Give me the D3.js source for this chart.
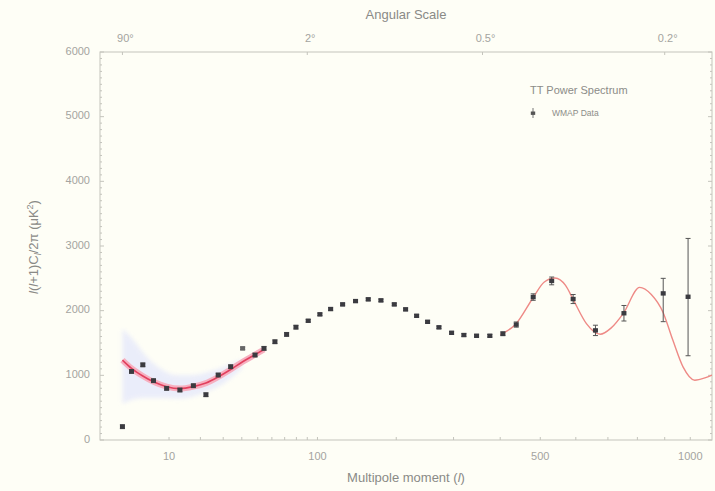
<!DOCTYPE html>
<html>
<head>
<meta charset="utf-8">
<script src="https://cdn.jsdelivr.net/npm/d3@7"></script>
<style>
body { margin: 0; background: #fefef6; }
svg { display: block; font-family: "Liberation Sans", Arial, sans-serif; }
</style>
</head>
<body>
<svg id="chart" width="715" height="491"></svg>
<script>
// binned WMAP points
var dataL = [2, 3, 4.6, 6.5, 9.4, 13, 17.4, 22.2, 27.6, 33.8, 40.5, 48.2, 54.3, 62.3, 71.6, 79.6,
             90.9, 102.5, 113.9, 127.5, 143.2, 159.7, 177.3, 197, 214.7, 232.8, 251.7, 272.2, 296.2,
             320.7, 347.2, 376.3, 406.3, 438.4, 481.3, 530.9, 592.1, 660.1, 753.4, 894.3, 991.1];
var dataD = [206, 1060, 1162, 917, 799, 773, 839, 700, 1005, 1133, 1417, 1314, 1417, 1519, 1633, 1745,
             1844, 1943, 2025, 2097, 2148, 2175, 2159, 2097, 2020, 1921, 1828, 1742, 1658,
             1623, 1612, 1612, 1643, 1785, 2210, 2460, 2180, 1695, 1960, 2267, 2215];
var errLo = [30, 30, 30, 30, 30, 30, 30, 30, 30, 30, 20, 30, 30, 30, 30, 30,
             20, 20, 20, 20, 20, 20, 20, 20, 20, 20, 20, 20, 20,
             20, 20, 20, 30, 40, 50, 60, 70, 80, 120, 437, 912];
var errHi = [30, 30, 30, 30, 30, 30, 30, 30, 30, 30, 20, 30, 30, 30, 30, 30,
             20, 20, 20, 20, 20, 20, 20, 20, 20, 20, 20, 20, 20,
             20, 20, 20, 30, 40, 50, 60, 70, 80, 120, 233, 902];

// best fit spectrum, low l part (with pink band) and high l part
var lowCurveL = [2, 3, 4.6, 6.5, 9.4, 13, 17.4, 22.2, 27.6, 33.8, 40.5, 48.2, 54.3];
var lowCurveD = [1236, 1108, 990, 900, 825, 795, 825, 880, 975, 1090, 1210, 1320, 1400];
var highCurveL = [400, 437, 481, 510, 540, 570, 592, 632, 675, 710, 752, 808, 850, 893, 931, 971, 1018, 1060, 1090];
var highCurveD = [1630, 1790, 2200, 2440, 2505, 2390, 2175, 1800, 1635, 1730, 1963, 2360, 2250, 1980, 1545, 1130, 925, 960, 1005];

// cosmic variance band
var cvL = [2, 3, 5, 8, 12, 17, 22, 30, 40];
var cvUp = [1720, 1580, 1310, 1100, 1000, 1000, 1040, 1130, 1250];
var cvDn = [560, 620, 650, 650, 640, 670, 740, 870, 1100];

var xTicks = [10, 20, 30, 40, 50, 60, 70, 80, 90, 100, 200, 300, 400, 500, 600, 700, 800, 900, 1000];
var xLabels = [10, 100, 500, 1000];
var angleL = [2, 90, 360, 900];
var angleText = ["90°", "2°", "0.5°", "0.2°"];
var yLabels = [0, 1000, 2000, 3000, 4000, 5000, 6000];

var svg = d3.select("#chart"),
    margin = {top: 52, right: 3, bottom: 51, left: 100},
    w = +svg.attr("width") - margin.left - margin.right,
    h = +svg.attr("height") - margin.top - margin.bottom;

var x = d3.scalePow().exponent(0.4).domain([0.48, 1090]).range([0, w]);
var y = d3.scaleLinear().domain([0, 6000]).range([h, 0]);

var defs = svg.append("defs");
defs.append("filter").attr("id", "soft")
  .append("feGaussianBlur").attr("stdDeviation", 0.55);
defs.append("filter").attr("id", "haze")
  .append("feGaussianBlur").attr("stdDeviation", 2);
defs.append("clipPath").attr("id", "clip")
  .append("rect").attr("width", w).attr("height", h);

var g = svg.append("g")
    .attr("transform", "translate(" + margin.left + "," + margin.top + ")");

// frame and ticks
var frameCol = "#c4c4bc", labCol = "#a4a4a0";

g.append("rect").attr("width", w).attr("height", h)
  .attr("fill", "none").attr("stroke", frameCol);

var yMinor = d3.range(0, 6001, 100);
g.selectAll(".yt").data(yMinor).enter().append("line")
  .attr("x1", 0).attr("x2", function(d) { return d % 1000 === 0 ? 4 : 2; })
  .attr("y1", function(d) { return y(d); }).attr("y2", function(d) { return y(d); })
  .attr("stroke", frameCol);
g.selectAll(".yr").data(yMinor).enter().append("line")
  .attr("x1", w).attr("x2", function(d) { return w - (d % 1000 === 0 ? 4 : 2); })
  .attr("y1", function(d) { return y(d); }).attr("y2", function(d) { return y(d); })
  .attr("stroke", frameCol);

g.selectAll(".xt").data(xTicks).enter().append("line")
  .attr("x1", function(d) { return x(d); }).attr("x2", function(d) { return x(d); })
  .attr("y1", h).attr("y2", h - 3)
  .attr("stroke", frameCol);
g.selectAll(".at").data(angleL).enter().append("line")
  .attr("x1", function(d) { return x(d); }).attr("x2", function(d) { return x(d); })
  .attr("y1", 0).attr("y2", 3)
  .attr("stroke", frameCol);

g.selectAll(".yl").data(yLabels).enter().append("text")
  .attr("x", -10).attr("y", function(d) { return y(d) + 2.5; })
  .attr("text-anchor", "end").attr("font-size", 11).attr("fill", labCol)
  .text(function(d) { return d; });

g.selectAll(".xl").data(xLabels).enter().append("text")
  .attr("x", function(d) { return x(d); }).attr("y", h + 20)
  .attr("text-anchor", "middle").attr("font-size", 11).attr("fill", labCol)
  .text(function(d) { return d; });

g.selectAll(".al").data(angleL).enter().append("text")
  .attr("x", function(d) { return x(d) + 3; }).attr("y", -10)
  .attr("text-anchor", "middle").attr("font-size", 11).attr("fill", labCol)
  .text(function(d, i) { return angleText[i]; });

svg.append("text").attr("x", margin.left + w / 2).attr("y", 19)
  .attr("text-anchor", "middle").attr("font-size", 13).attr("fill", "#8a8a86")
  .text("Angular Scale");

var xt = svg.append("text").attr("x", margin.left + w / 2).attr("y", 482)
  .attr("text-anchor", "middle").attr("font-size", 13).attr("fill", "#8a8a86");
xt.append("tspan").text("Multipole moment (");
xt.append("tspan").attr("font-style", "italic").text("l");
xt.append("tspan").text(")");

var yt = svg.append("text").attr("transform", "translate(38,247) rotate(-90)")
  .attr("text-anchor", "middle").attr("font-size", 13).attr("fill", "#8a8a86");
yt.append("tspan").attr("font-style", "italic").text("l");
yt.append("tspan").text("(");
yt.append("tspan").attr("font-style", "italic").text("l");
yt.append("tspan").text("+1)C");
yt.append("tspan").attr("font-style", "italic").attr("font-size", 9).attr("dy", 3).text("l");
yt.append("tspan").attr("dy", -3).text("/2\u03c0 (\u03bcK");
yt.append("tspan").attr("font-size", 9).attr("dy", -5).text("2");
yt.append("tspan").attr("dy", 5).text(")");

// plot marks
var clipped = g.append("g").attr("clip-path", "url(#clip)");

var band = d3.area().curve(d3.curveMonotoneX)
  .x(function(d) { return x(d); })
  .y0(function(d, i) { return y(cvDn[i]); })
  .y1(function(d, i) { return y(cvUp[i]); });
clipped.append("path").datum(cvL).attr("d", band)
  .attr("fill", "#e6e9fb").attr("opacity", 0.8).attr("filter", "url(#haze)");

var p = clipped.append("g").attr("filter", "url(#soft)");

var lowLine = d3.line().curve(d3.curveMonotoneX)
  .x(function(d) { return x(d); })
  .y(function(d, i) { return y(lowCurveD[i]); });
p.append("path").datum(lowCurveL).attr("d", lowLine)
  .attr("fill", "none").attr("stroke", "#f6b0c0").attr("stroke-width", 6);
p.append("path").datum(lowCurveL).attr("d", lowLine)
  .attr("fill", "none").attr("stroke", "#e2405e").attr("stroke-width", 1.6);

var highLine = d3.line().curve(d3.curveMonotoneX)
  .x(function(d) { return x(d); })
  .y(function(d, i) { return y(highCurveD[i]); });
p.append("path").datum(highCurveL).attr("d", highLine)
  .attr("fill", "none").attr("stroke", "#ee8a86").attr("stroke-width", 1.4);

// error bars
var eb = p.selectAll(".eb").data(dataL).enter().append("g");
eb.append("line")
  .attr("x1", function(d) { return x(d); }).attr("x2", function(d) { return x(d); })
  .attr("y1", function(d, i) { return y(dataD[i] + errHi[i]); })
  .attr("y2", function(d, i) { return y(dataD[i] - errLo[i]); })
  .attr("stroke", "#555");
eb.append("line")
  .attr("x1", function(d) { return x(d) - 2.5; }).attr("x2", function(d) { return x(d) + 2.5; })
  .attr("y1", function(d, i) { return y(dataD[i] + errHi[i]); })
  .attr("y2", function(d, i) { return y(dataD[i] + errHi[i]); })
  .attr("stroke", "#555");
eb.append("line")
  .attr("x1", function(d) { return x(d) - 2.5; }).attr("x2", function(d) { return x(d) + 2.5; })
  .attr("y1", function(d, i) { return y(dataD[i] - errLo[i]); })
  .attr("y2", function(d, i) { return y(dataD[i] - errLo[i]); })
  .attr("stroke", "#555");

p.selectAll(".pt").data(dataL).enter().append("rect")
  .attr("x", function(d) { return x(d) - 2.5; })
  .attr("y", function(d, i) { return y(dataD[i]) - 2.2; })
  .attr("width", 5).attr("height", 4.4)
  .attr("fill", function(d) { return d === 40.5 ? "#666" : "#3a3a40"; });

// legend
var lg = g.append("g").attr("transform", "translate(430,38)");
lg.append("text").attr("x", 0).attr("y", 4).attr("font-size", 11).attr("fill", "#8c8c88")
  .text("TT Power Spectrum");
lg.append("line").attr("x1", 3).attr("x2", 3).attr("y1", 18).attr("y2", 28).attr("stroke", "#777");
lg.append("rect").attr("x", 0.8).attr("y", 21.5).attr("width", 4.4).attr("height", 3.4).attr("fill", "#555");
lg.append("text").attr("x", 22).attr("y", 26).attr("font-size", 8.5).attr("fill", "#8c8c88")
  .text("WMAP Data");
</script>
</body>
</html>
